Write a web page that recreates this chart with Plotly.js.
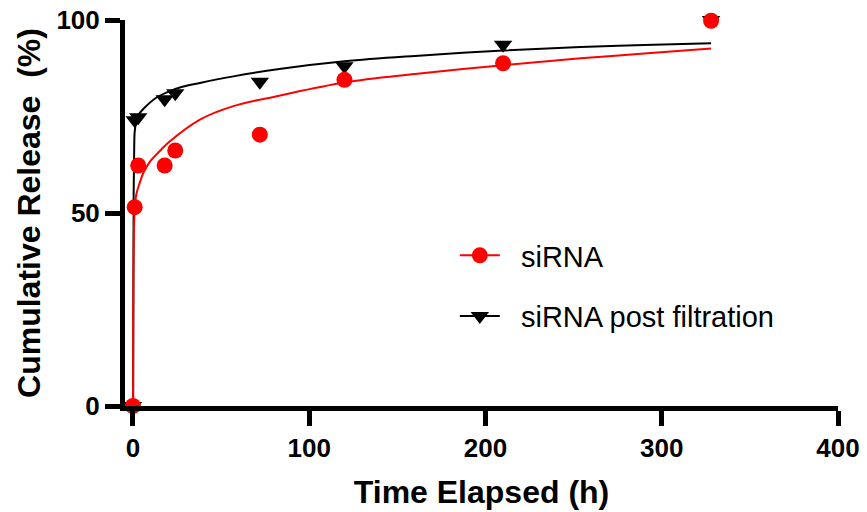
<!DOCTYPE html>
<html>
<head>
<meta charset="utf-8">
<script src="https://cdn.plot.ly/plotly-3.0.1.min.js"></script>
<style>html,body{margin:0;padding:0;background:#fff;}#chart{width:867px;height:512px;}</style>
</head>
<body>
<div id="chart"></div>
<script>
// Measured data (time in hours, cumulative release in %)
const timeH = [0, 1, 3, 18, 24, 72, 120, 210, 328];
const siRNA = [0, 51.5, 62.3, 62.3, 66.2, 70.3, 84.5, 88.8, 99.8];
const siRNAPost = [0, 74.0, 74.8, 79.5, 81.0, 84.0, 88.0, 93.6, 100.0];

// Fitted curves
const fitTimeRed = [0.1, 0.4, 1, 2, 4, 6, 10, 16, 20, 38, 57, 83, 120, 160, 210, 254, 290, 328];
const fitRed = [0, 40, 51, 55, 58, 60.5, 63.5, 66.4, 68.2, 74.2, 77.7, 80.4, 83.8, 86.0, 88.3, 90.1, 91.3, 92.6];
const fitTimeBlack = [0.1, 0.4, 0.7, 1, 2, 3, 6, 13, 20, 28, 38, 57, 83, 120, 160, 210, 254, 290, 328];
const fitBlack = [0, 55, 66, 71, 74, 75.3, 77, 79.8, 81.4, 82.7, 83.7, 85.4, 87.3, 89.3, 90.7, 92.1, 93.0, 93.5, 94.0];

const xTicks = [0, 100, 200, 300, 400];
const yTicks = [0, 50, 100];
const seriesNames = ['siRNA', 'siRNA post filtration'];

const RED = '#ff0000', BLACK = '#000000';
const FONT = 'Liberation Sans, Arial, Helvetica, sans-serif';
const PAD = '\u00a0\u00a0';

const traces = [
  {x: fitTimeBlack, y: fitBlack, mode: 'lines', line: {color: BLACK, width: 2, shape: 'spline'}, showlegend: false, cliponaxis: false, hoverinfo: 'skip'},
  {x: fitTimeRed, y: fitRed, mode: 'lines', line: {color: RED, width: 2, shape: 'spline'}, showlegend: false, cliponaxis: false, hoverinfo: 'skip'},
  {x: timeH, y: siRNAPost, mode: 'markers', marker: {symbol: 'triangle-down', size: 16, color: BLACK}, showlegend: false, cliponaxis: false},
  {x: timeH, y: siRNA, mode: 'markers', marker: {symbol: 'circle', size: 16, color: RED}, showlegend: false, cliponaxis: false},
  {x: [null], y: [null], name: PAD + seriesNames[0], mode: 'lines+markers', line: {color: RED, width: 2}, marker: {symbol: 'circle', size: 16, color: RED}, legendgroup: 'a'},
  {x: [null], y: [null], name: PAD + seriesNames[1], mode: 'lines+markers', line: {color: BLACK, width: 2}, marker: {symbol: 'triangle-down', size: 16, color: BLACK}, legendgroup: 'b'}
];

const layout = {
  width: 867, height: 512,
  margin: {l: 125, r: 29, t: 20, b: 106},
  paper_bgcolor: '#fff', plot_bgcolor: '#fff',
  font: {family: FONT, color: '#000'},
  showlegend: true,
  legend: {x: 0.4626, y: 0.456, xanchor: 'left', yanchor: 'top', traceorder: 'grouped', tracegroupgap: 20,
           font: {family: FONT, size: 29, color: '#000'}, bgcolor: 'rgba(0,0,0,0)', itemwidth: 40},
  xaxis: {
    range: [-4.5, 400], tickvals: xTicks, ticktext: xTicks.map(String),
    showgrid: false, zeroline: false, showline: true, linecolor: '#000', linewidth: 5,
    ticks: 'outside', ticklen: 15, tickwidth: 5, tickcolor: '#000',
    tickfont: {family: FONT, size: 26, color: '#000', weight: 'bold'},
    title: {text: '<b>Time Elapsed (h)</b>', font: {family: FONT, size: 32, color: '#000'}, standoff: 20}
  },
  yaxis: {
    range: [0, 100], tickvals: yTicks, ticktext: yTicks.map(String),
    showgrid: false, zeroline: false, showline: true, linecolor: '#000', linewidth: 5,
    ticks: 'outside', ticklen: 15, tickwidth: 5, tickcolor: '#000',
    tickfont: {family: FONT, size: 26, color: '#000', weight: 'bold'},
    title: {text: '<b>Cumulative Release  (%)</b>', font: {family: FONT, size: 32, color: '#000'}, standoff: 8}
  }
};

Plotly.newPlot('chart', traces, layout, {displayModeBar: false, staticPlot: true});
</script>
</body>
</html>
